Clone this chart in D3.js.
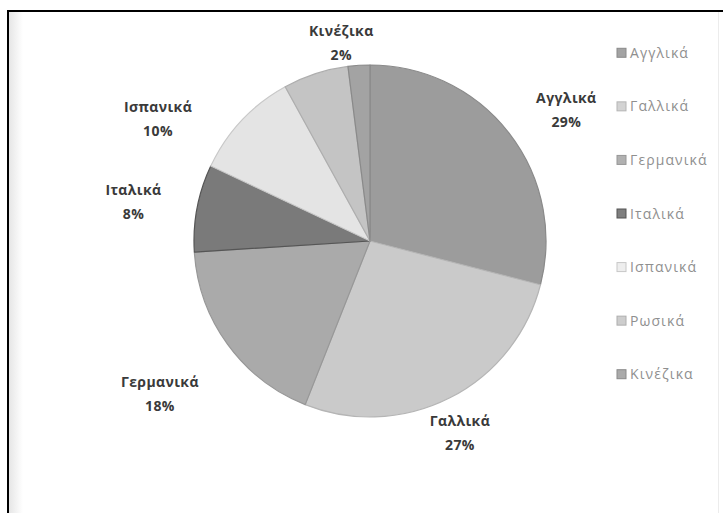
<!DOCTYPE html>
<html><head><meta charset="utf-8">
<script src="https://cdn.jsdelivr.net/npm/d3@7"></script>
<style>html,body{margin:0;padding:0;background:#fff;}svg{display:block;}</style>
</head><body>
<svg id="chart" width="723" height="513"></svg>
<script>
// ---- data ----
const categories = ["Αγγλικά", "Γαλλικά", "Γερμανικά", "Ιταλικά", "Ισπανικά", "Ρωσικά", "Κινέζικα"];
const values = [29, 27, 18, 8, 10, 6, 2];
const showLabel = [true, true, true, true, true, false, true];

// ---- style / layout ----
const fills = ["#a3a3a3", "#d3d3d3", "#b1b1b1", "#7f7f7f", "#eeeeee", "#cdcdcd", "#aaaaaa"];
const strokes = ["#8a8a8a", "#b5b5b5", "#979797", "#555555", "#c8c8c8", "#aeaeae", "#8a8a8a"];
const labelNudge = [[-2,-9],[-24,4],[-7,28],[10,-4],[-29,15],[0,0],[-13,4]];

const svg = d3.select("#chart");
const W = 723, H = 513;
const cx = 370, cy = 241, r = 176;

// frame
const defs = svg.append("defs");
const sh = defs.append("linearGradient").attr("id","lsh").attr("x1","0").attr("x2","1");
sh.append("stop").attr("offset","0").attr("stop-color","#e6e6e6");
sh.append("stop").attr("offset","1").attr("stop-color","#ffffff");
svg.append("rect").attr("x",9).attr("y",12).attr("width",14).attr("height",H-12).attr("fill","url(#lsh)");
svg.append("line").attr("x1",8).attr("x2",8).attr("y1",11).attr("y2",H).attr("stroke","#000").attr("stroke-width",2);
svg.append("line").attr("x1",7).attr("x2",W).attr("y1",11).attr("y2",11).attr("stroke","#000").attr("stroke-width",2);
svg.append("line").attr("x1",718.5).attr("x2",718.5).attr("y1",12).attr("y2",H).attr("stroke","#ececec").attr("stroke-width",1);

// gradients per slice
fills.forEach((c,i)=>{
  const g = defs.append("radialGradient").attr("id","g"+i)
    .attr("gradientUnits","userSpaceOnUse").attr("cx",cx).attr("cy",cy).attr("r",r);
  g.append("stop").attr("offset","0").attr("stop-color", d3.color(c).brighter(0.25));
  g.append("stop").attr("offset","1").attr("stop-color", d3.color(c).darker(0.12));
});

const pie = d3.pie().sort(null).value(d=>d);
const arcs = pie(values);
const arc = d3.arc().innerRadius(0).outerRadius(r);

const gp = svg.append("g").attr("transform",`translate(${cx},${cy})`);
gp.selectAll("path").data(arcs).join("path")
  .attr("d",arc)
  .attr("fill",(d,i)=>`url(#g${i})`)
  .attr("stroke",(d,i)=>strokes[i])
  .attr("stroke-width",1.2)
  .attr("stroke-linejoin","round");

// data labels
const total = d3.sum(values);
const Rx = r + 75, Ry = r + 30;
arcs.forEach((d,i)=>{
  if(!showLabel[i]) return;
  const a = (d.startAngle + d.endAngle)/2;
  const x = cx + Rx*Math.sin(a) + labelNudge[i][0];
  const y = cy - Ry*Math.cos(a) + labelNudge[i][1];
  const t = svg.append("text").attr("text-anchor","middle")
    .attr("font-family","'Open Sans', 'Noto Sans', sans-serif")
    .attr("font-weight","bold").attr("font-size",14).attr("letter-spacing",0.4).attr("fill","#3a3a3a");
  t.append("tspan").attr("x",x).attr("y",y-3).text(categories[i]);
  t.append("tspan").attr("x",x).attr("y",y+21).text(Math.round(values[i]/total*100)+"%");
});

// legend
const ly = d3.scaleBand().domain(categories).range([26, 401]);
const lg = svg.append("g");
categories.forEach((c,i)=>{
  const y = ly(c) + ly.bandwidth()/2;
  lg.append("rect").attr("x",617).attr("y",y-4.5).attr("width",9).attr("height",9)
    .attr("fill",fills[i]).attr("stroke",strokes[i]).attr("stroke-width",1);
  lg.append("text").attr("x",630).attr("y",y+5)
    .attr("font-family","'Open Sans', 'Noto Sans', sans-serif")
    .attr("font-size",14).attr("letter-spacing",1.1).attr("fill","#8f8f8f").text(c);
});
</script>
</body></html>
